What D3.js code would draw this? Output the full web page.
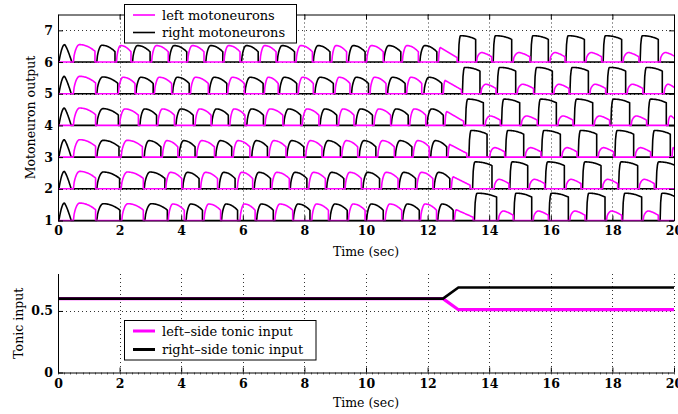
<!DOCTYPE html>
<html>
<head>
<meta charset="utf-8">
<script src="https://cdn.jsdelivr.net/npm/d3@7"></script>
<style>
  html, body { margin: 0; padding: 0; background: #fff; }
  svg { display: block; }
  text { font-family: "DejaVu Serif", "Liberation Serif", serif; fill: #000; }
</style>
</head>
<body>
<svg id="chart" width="678" height="414"></svg>
<script>
// Time axis (seconds)
const timeTicks = [0, 2, 4, 6, 8, 10, 12, 14, 16, 18, 20];
const outputTicks = [1, 2, 3, 4, 5, 6, 7];
const tonicTicks = [0, 0.5];

// Motoneuron bursts per segment: [onset, offset, peak, profile]
// profile: f = first transient, d = dome, r = ramp, H = strong burst, L = weak burst
const right6 = [[0.03,0.44,0.55,"f"],[1.26,1.85,0.53,"d"],[2.42,2.99,0.52,"d"],[3.61,4.18,0.52,"d"],[4.80,5.35,0.52,"d"],[5.96,6.50,0.52,"d"],[7.12,7.68,0.52,"d"],[8.29,8.83,0.52,"d"],[9.43,9.97,0.52,"d"],[10.58,11.13,0.52,"d"],[11.75,12.30,0.52,"d"],[13.00,13.56,0.83,"H"],[14.13,14.73,0.83,"H"],[15.35,15.92,0.83,"H"],[16.49,17.09,0.83,"H"],[17.70,18.30,0.83,"H"],[18.90,19.49,0.83,"H"]];
const left6 = [[0.50,1.20,0.55,"d"],[1.90,2.37,0.52,"d"],[3.04,3.58,0.52,"d"],[4.21,4.74,0.52,"d"],[5.39,5.91,0.52,"d"],[6.56,7.08,0.52,"d"],[7.73,8.26,0.52,"d"],[8.89,9.37,0.52,"d"],[10.02,10.56,0.52,"d"],[11.18,11.70,0.52,"d"],[12.35,12.96,0.46,"r"],[13.59,14.08,0.30,"L"],[14.78,15.32,0.30,"L"],[15.97,16.46,0.30,"L"],[17.14,17.65,0.30,"L"],[18.35,18.86,0.30,"L"],[19.55,20.05,0.30,"L"]];

const right5 = [[0.03,0.42,0.55,"f"],[1.26,1.94,0.53,"d"],[2.53,3.09,0.52,"d"],[3.72,4.26,0.52,"d"],[4.91,5.48,0.52,"d"],[6.07,6.66,0.52,"d"],[7.19,7.75,0.52,"d"],[8.34,8.94,0.52,"d"],[9.53,10.08,0.52,"d"],[10.70,11.27,0.52,"d"],[11.88,12.46,0.52,"d"],[13.13,13.70,0.83,"H"],[14.26,14.86,0.83,"H"],[15.47,16.05,0.83,"H"],[16.62,17.22,0.83,"H"],[17.83,18.43,0.83,"H"],[19.03,19.62,0.83,"H"]];
const left5 = [[0.50,1.22,0.55,"d"],[1.96,2.50,0.52,"d"],[3.13,3.69,0.52,"d"],[4.30,4.88,0.52,"d"],[5.51,6.05,0.52,"d"],[6.70,7.15,0.52,"d"],[7.80,8.29,0.52,"d"],[8.99,9.48,0.52,"d"],[10.13,10.65,0.52,"d"],[11.32,11.81,0.52,"d"],[12.51,13.10,0.42,"r"],[13.73,14.22,0.30,"L"],[14.91,15.44,0.30,"L"],[16.10,16.59,0.30,"L"],[17.27,17.78,0.30,"L"],[18.48,18.99,0.30,"L"],[19.68,20.05,0.30,"L"]];

const right4 = [[0.03,0.42,0.55,"f"],[1.26,1.96,0.53,"d"],[2.66,3.20,0.52,"d"],[3.83,4.39,0.52,"d"],[4.99,5.53,0.52,"d"],[6.13,6.67,0.52,"d"],[7.33,7.88,0.52,"d"],[8.51,9.05,0.52,"d"],[9.67,10.21,0.52,"d"],[10.82,11.37,0.52,"d"],[11.98,12.51,0.52,"d"],[13.23,13.81,0.83,"H"],[14.40,14.99,0.83,"H"],[15.59,16.18,0.83,"H"],[16.76,17.36,0.83,"H"],[17.95,18.56,0.83,"H"],[19.16,19.75,0.83,"H"]];
const left4 = [[0.50,1.22,0.55,"d"],[2.00,2.61,0.52,"d"],[3.24,3.78,0.52,"d"],[4.45,4.97,0.52,"d"],[5.58,6.07,0.52,"d"],[6.72,7.30,0.52,"d"],[7.93,8.47,0.52,"d"],[9.11,9.61,0.52,"d"],[10.26,10.80,0.52,"d"],[11.42,11.94,0.52,"d"],[12.56,13.17,0.44,"r"],[13.87,14.36,0.30,"L"],[15.04,15.56,0.30,"L"],[16.23,16.72,0.30,"L"],[17.41,17.91,0.30,"L"],[18.61,19.11,0.30,"L"],[19.81,20.05,0.30,"L"]];

const right3 = [[0.03,0.42,0.55,"f"],[1.26,1.98,0.53,"d"],[2.80,3.34,0.52,"d"],[3.93,4.45,0.52,"d"],[5.12,5.64,0.52,"d"],[6.29,6.80,0.52,"d"],[7.43,7.98,0.52,"d"],[8.61,9.17,0.52,"d"],[9.78,10.32,0.52,"d"],[10.95,11.49,0.52,"d"],[12.10,12.62,0.52,"d"],[13.34,13.93,0.84,"H"],[14.53,15.12,0.84,"H"],[15.70,16.31,0.84,"H"],[16.89,17.49,0.84,"H"],[18.08,18.69,0.84,"H"],[19.29,19.88,0.84,"H"]];
const left3 = [[0.50,1.22,0.55,"d"],[2.05,2.74,0.53,"d"],[3.39,3.89,0.52,"d"],[4.50,5.08,0.52,"d"],[5.69,6.23,0.52,"d"],[6.85,7.40,0.52,"d"],[8.04,8.57,0.52,"d"],[9.21,9.73,0.52,"d"],[10.38,10.92,0.52,"d"],[11.53,12.05,0.52,"d"],[12.66,13.27,0.40,"r"],[14.02,14.50,0.30,"L"],[15.17,15.68,0.30,"L"],[16.36,16.85,0.30,"L"],[17.54,18.04,0.30,"L"],[18.74,19.24,0.30,"L"],[19.94,20.05,0.30,"L"]];

const right2 = [[0.03,0.42,0.55,"f"],[1.26,2.00,0.53,"d"],[2.80,3.47,0.53,"d"],[4.05,4.58,0.52,"d"],[5.23,5.75,0.52,"d"],[6.37,6.90,0.52,"d"],[7.54,8.08,0.52,"d"],[8.72,9.28,0.52,"d"],[9.90,10.44,0.52,"d"],[11.07,11.61,0.52,"d"],[12.21,12.72,0.52,"d"],[13.46,14.09,0.85,"H"],[14.67,15.25,0.85,"H"],[15.82,16.44,0.85,"H"],[17.03,17.63,0.85,"H"],[18.20,18.82,0.85,"H"],[19.42,20.05,0.85,"H"]];
const left2 = [[0.50,1.22,0.55,"d"],[2.05,2.77,0.53,"d"],[3.50,4.02,0.52,"d"],[4.63,5.18,0.52,"d"],[5.82,6.32,0.52,"d"],[6.94,7.51,0.52,"d"],[8.14,8.68,0.52,"d"],[9.32,9.85,0.52,"d"],[10.50,11.04,0.52,"d"],[11.65,12.17,0.52,"d"],[12.77,13.38,0.38,"r"],[14.16,14.64,0.30,"L"],[15.30,15.80,0.30,"L"],[16.49,16.98,0.30,"L"],[17.68,18.17,0.30,"L"],[18.87,19.36,0.30,"L"]];

const right1 = [[0.03,0.42,0.55,"f"],[1.26,2.01,0.53,"d"],[2.82,3.55,0.53,"d"],[4.16,4.69,0.52,"d"],[5.31,5.83,0.52,"d"],[6.45,6.99,0.52,"d"],[7.64,8.18,0.52,"d"],[8.83,9.39,0.52,"d"],[10.02,10.56,0.52,"d"],[11.19,11.73,0.52,"d"],[12.33,12.83,0.52,"d"],[13.52,14.24,0.86,"H"],[14.80,15.38,0.86,"H"],[15.94,16.57,0.86,"H"],[17.16,17.76,0.86,"H"],[18.33,18.95,0.86,"H"],[19.55,20.05,0.86,"H"]];
const left1 = [[0.50,1.22,0.55,"d"],[2.07,2.77,0.53,"d"],[3.58,4.10,0.52,"d"],[4.74,5.28,0.52,"d"],[5.91,6.40,0.52,"d"],[7.04,7.62,0.52,"d"],[8.24,8.78,0.52,"d"],[9.43,9.97,0.52,"d"],[10.62,11.16,0.52,"d"],[11.77,12.29,0.52,"d"],[12.87,13.48,0.34,"r"],[14.30,14.78,0.30,"L"],[15.43,15.92,0.30,"L"],[16.62,17.11,0.30,"L"],[17.81,18.30,0.30,"L"],[19.00,19.49,0.30,"L"]];

// Tonic drive to each side
const tonicTime = [0, 12.5, 13, 20];
const leftTonic = [0.6, 0.6, 0.51, 0.51];
const rightTonic = [0.6, 0.6, 0.69, 0.69];

// Segments stacked by offset (1 = most caudal)
const segments = [
  { offset: 1, right: right1, left: left1 },
  { offset: 2, right: right2, left: left2 },
  { offset: 3, right: right3, left: left3 },
  { offset: 4, right: right4, left: left4 },
  { offset: 5, right: right5, left: left5 },
  { offset: 6, right: right6, left: left6 }
];

const LEFT_COLOR = "#ff00ff";
const RIGHT_COLOR = "#000000";

// Burst waveform shapes: rise fraction, end level relative to peak, decay curvature
const profiles = {
  f: { rise: 0.45, tail: 0.05, k: 1.3, p: 0.9 },
  d: { rise: 0.28, tail: 0.62, k: 2.0, p: 0.6 },
  r: { rise: 0.10, tail: 0.30, k: 1.0, p: 0.7 },
  H: { rise: 0.12, tail: 0.86, k: 2.2, p: 0.5 },
  L: { rise: 0.35, tail: 0.55, k: 1.4, p: 0.45 }
};

function profile(u, s) {
  if (u < s.rise) return Math.pow(Math.sin(Math.PI / 2 * u / s.rise), s.p);
  const v = (u - s.rise) / (1 - s.rise);
  return 1 - (1 - s.tail) * Math.pow(v, s.k);
}

function trace(bursts) {
  const pts = [[0, 0]];
  const N = 30;
  for (const [t0, t1, peak, kind] of bursts) {
    const s = profiles[kind];
    pts.push([t0, 0]);
    for (let i = 1; i <= N; i++) {
      const u = i / N;
      pts.push([t0 + u * (t1 - t0), peak * profile(u, s)]);
    }
    pts.push([t1, 0]);
  }
  pts.push([20.05, 0]);
  return pts;
}

const svg = d3.select("#chart");
svg.append("rect").attr("width", 678).attr("height", 414).attr("fill", "#fff");

const x0 = 58, x1 = 674;
const upperPanel = { y0: 14.5, y1: 220.5 };
const lowerPanel = { y0: 274, y1: 372.5 };

const x = d3.scaleLinear().domain([0, 20]).range([x0, x1]);
const yTop = d3.scaleLinear().domain([1, 7.5]).range([upperPanel.y1, upperPanel.y0]);
const yBot = d3.scaleLinear().domain([0, 0.8]).range([lowerPanel.y1, lowerPanel.y0]);

const gridStyle = g => g.attr("stroke", "#333").attr("stroke-width", 1)
  .attr("stroke-dasharray", "1,3").attr("fill", "none");

// ---------- Upper panel: motoneuron output ----------
const gTop = svg.append("g");
const gridTop = gTop.append("g").call(gridStyle);
timeTicks.filter(t => t > 0 && t < 20).forEach(t => {
  gridTop.append("line").attr("x1", Math.round(x(t)) + 0.5).attr("x2", Math.round(x(t)) + 0.5)
    .attr("y1", upperPanel.y0).attr("y2", upperPanel.y1);
});
outputTicks.filter(v => v > 1).forEach(v => {
  gridTop.append("line").attr("x1", x0).attr("x2", x1)
    .attr("y1", Math.round(yTop(v)) + 0.5).attr("y2", Math.round(yTop(v)) + 0.5);
});

svg.append("clipPath").attr("id", "clipTop").append("rect")
  .attr("x", x0).attr("y", upperPanel.y0 - 2).attr("width", x1 - x0).attr("height", upperPanel.y1 - upperPanel.y0 + 4);

const lineTop = d3.line().x(d => x(d[0])).y(d => d[1]);
const traces = gTop.append("g").attr("clip-path", "url(#clipTop)");
segments.forEach(seg => {
  traces.append("path")
    .attr("d", lineTop(trace(seg.right).map(p => [p[0], yTop(seg.offset + p[1])])))
    .attr("fill", "none").attr("stroke", RIGHT_COLOR).attr("stroke-width", 1.6)
    .attr("stroke-linejoin", "round");
});
segments.forEach(seg => {
  traces.append("path")
    .attr("d", lineTop(trace(seg.left).map(p => [p[0], yTop(seg.offset + p[1])])))
    .attr("fill", "none").attr("stroke", LEFT_COLOR).attr("stroke-width", 1.6)
    .attr("stroke-linejoin", "round");
});

// axes box with inward ticks
const axTop = gTop.append("g");
axTop.append("g").attr("transform", `translate(0,${upperPanel.y1})`)
  .call(d3.axisBottom(x).tickValues(timeTicks).tickSizeInner(-5).tickSizeOuter(0).tickPadding(6).tickFormat(d3.format("d")));
axTop.append("g").attr("transform", `translate(0,${upperPanel.y0})`)
  .call(d3.axisTop(x).tickValues(timeTicks).tickSizeInner(-5).tickSizeOuter(0).tickFormat(""));
axTop.append("g").attr("transform", `translate(${x0},0)`)
  .call(d3.axisLeft(yTop).tickValues(outputTicks).tickSizeInner(-5).tickSizeOuter(0).tickPadding(5).tickFormat(d3.format("d")));
axTop.append("g").attr("transform", `translate(${x1},0)`)
  .call(d3.axisRight(yTop).tickValues(outputTicks).tickSizeInner(-5).tickSizeOuter(0).tickFormat(""));

gTop.append("text").attr("x", x(10)).attr("y", 256).attr("text-anchor", "middle")
  .attr("font-size", 12.5).text("Time (sec)");
gTop.append("text").attr("transform", `translate(35,${(upperPanel.y0 + upperPanel.y1) / 2}) rotate(-90)`)
  .attr("text-anchor", "middle").attr("font-size", 12.5).text("Motoneuron output");

// legend
const legTop = svg.append("g");
legTop.append("rect").attr("x", 124.5).attr("y", 4.5).attr("width", 172).attr("height", 38.5)
  .attr("fill", "#fff").attr("stroke", "#000").attr("stroke-width", 1);
[["left motoneurons", LEFT_COLOR, 15], ["right motoneurons", RIGHT_COLOR, 32.5]].forEach(([label, c, y]) => {
  legTop.append("line").attr("x1", 133).attr("x2", 155).attr("y1", y).attr("y2", y)
    .attr("stroke", c).attr("stroke-width", 1.6);
  legTop.append("text").attr("x", 162).attr("y", y + 4.5).attr("font-size", 13).text(label);
});

// ---------- Lower panel: tonic input ----------
const gBot = svg.append("g");
const gridBot = gBot.append("g").call(gridStyle);
timeTicks.filter(t => t > 0).forEach(t => {
  gridBot.append("line").attr("x1", Math.round(x(t)) + 0.5).attr("x2", Math.round(x(t)) + 0.5)
    .attr("y1", lowerPanel.y0).attr("y2", lowerPanel.y1);
});
tonicTicks.filter(v => v > 0).forEach(v => {
  gridBot.append("line").attr("x1", x0).attr("x2", x1)
    .attr("y1", Math.round(yBot(v)) + 0.5).attr("y2", Math.round(yBot(v)) + 0.5);
});

const lineBot = d3.line().x(d => x(d[0])).y(d => yBot(d[1]));
gBot.append("path").attr("d", lineBot(tonicTime.map((t, i) => [t, leftTonic[i]])))
  .attr("fill", "none").attr("stroke", LEFT_COLOR).attr("stroke-width", 3.2);
gBot.append("path").attr("d", lineBot(tonicTime.map((t, i) => [t, rightTonic[i]])))
  .attr("fill", "none").attr("stroke", RIGHT_COLOR).attr("stroke-width", 2.6);

// minor ticks along the time axis
const minorTicks = d3.range(0, 20.001, 0.2).map(v => +v.toFixed(1));
gBot.append("g").selectAll("line").data(minorTicks).join("line")
  .attr("x1", d => Math.round(x(d)) + 0.5).attr("x2", d => Math.round(x(d)) + 0.5)
  .attr("y1", lowerPanel.y1).attr("y2", lowerPanel.y1 + 2).attr("stroke", "#666").attr("stroke-width", 1);

gBot.append("g").attr("transform", `translate(0,${lowerPanel.y1})`)
  .call(d3.axisBottom(x).tickValues(timeTicks).tickSizeInner(-5).tickSizeOuter(0).tickPadding(7).tickFormat(d3.format("d")));
gBot.append("g").attr("transform", `translate(${x0},0)`)
  .call(d3.axisLeft(yBot).tickValues(tonicTicks).tickSizeInner(-5).tickSizeOuter(0).tickPadding(5).tickFormat(d => d === 0 ? "0" : d3.format(".1f")(d)));
gBot.append("line").attr("x1", x0 + 0.5).attr("x2", x0 + 0.5).attr("y1", lowerPanel.y0).attr("y2", lowerPanel.y1)
  .attr("stroke", "#000");

gBot.append("text").attr("x", x(10)).attr("y", 407).attr("text-anchor", "middle")
  .attr("font-size", 12.5).text("Time (sec)");
gBot.append("text").attr("transform", `translate(23,${(lowerPanel.y0 + lowerPanel.y1) / 2}) rotate(-90)`)
  .attr("text-anchor", "middle").attr("font-size", 12.5).text("Tonic input");

const legBot = svg.append("g");
legBot.append("rect").attr("x", 124.5).attr("y", 320.5).attr("width", 191.5).attr("height", 39.5)
  .attr("fill", "#fff").attr("stroke", "#000").attr("stroke-width", 1);
[["left–side tonic input", LEFT_COLOR, 331], ["right–side tonic input", RIGHT_COLOR, 349.5]].forEach(([label, c, y]) => {
  legBot.append("line").attr("x1", 133).attr("x2", 155).attr("y1", y).attr("y2", y)
    .attr("stroke", c).attr("stroke-width", 3);
  legBot.append("text").attr("x", 162).attr("y", y + 4.5).attr("font-size", 13).text(label);
});

// tick label styling
svg.selectAll(".tick text").attr("font-size", 12.5).attr("font-weight", "bold")
  .attr("font-family", "'DejaVu Serif', 'Liberation Serif', serif");
svg.selectAll(".tick line").attr("stroke", "#000");
svg.selectAll(".domain").attr("stroke", "#000");
</script>
</body>
</html>
